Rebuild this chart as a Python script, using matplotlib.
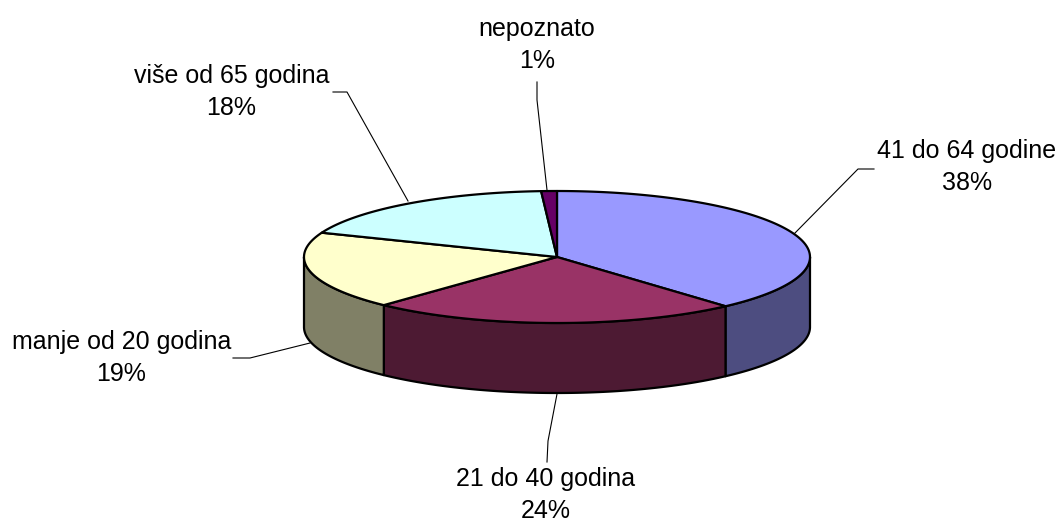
"""
3D pie (Excel style) drawn by hand from the shares, matplotlib has no such pie
"""

import numpy as np
import matplotlib
matplotlib.use('Agg')
import matplotlib.pyplot as plt
from matplotlib.patches import Polygon

# ============ data ============
categories = ['41 do 64 godine', '21 do 40 godina', 'manje od 20 godina', 'više od 65 godina', 'nepoznato']
shares = [38.4, 23.6, 19, 18, 1]
top_colors = ['#9999FF', '#993366', '#FFFFCC', '#CCFFFF', '#660066']
side_colors = ['#4D4D80', '#4D1A33', '#808066', '#668080', '#330033']

# ============ layout in pixels ============
WIDTH, HEIGHT = 1061, 524
cx, cy = 557, 257
rx, ry = 253, 66
depth = 70

# label centre, leader line points
label_pos = [(967, 167), (546, 495), (121.5, 358), (231.5, 92), (537, 45)]
leaders = [
    [(794, 234), (858, 169), (874, 169)],
    [(557, 394), (548, 441), (547, 462)],
    [(310, 343), (250, 358), (233, 358)],
    [(408, 201), (347, 92), (333, 92)],
    [(547, 190), (537, 100), (537, 82)],
]

plt.rcParams['font.family'] = ['Liberation Sans', 'DejaVu Sans']


def rim(a0, a1, n=120):
    """points on the top ellipse, angle clockwise from 12 o'clock"""
    t = np.linspace(a0, a1, n)
    return np.column_stack((cx + rx * np.sin(t), cy - ry * np.cos(t)))


fig = plt.figure(figsize=(WIDTH / 100, HEIGHT / 100), dpi=100)
ax = fig.add_axes([0, 0, 1, 1])
ax.set_xlim(0, WIDTH)
ax.set_ylim(HEIGHT, 0)
ax.axis('off')

for pts in leaders:
    xs, ys = zip(*pts)
    ax.plot(xs, ys, color='black', linewidth=0.8, zorder=1)

edges = np.cumsum([0] + shares) / sum(shares) * 2 * np.pi

# front walls, only the part of the rim in the lower half is visible
for i in range(len(shares)):
    a0 = max(edges[i], np.pi / 2)
    a1 = min(edges[i + 1], 3 * np.pi / 2)
    if a1 <= a0:
        continue
    upper = rim(a0, a1)
    lower = upper[::-1] + [0, depth]
    ax.add_patch(Polygon(np.vstack((upper, lower)), closed=True, facecolor=side_colors[i],
                         edgecolor='black', linewidth=1.6, joinstyle='round', zorder=2))

# top faces
for i in range(len(shares)):
    pts = np.vstack(([[cx, cy]], rim(edges[i], edges[i + 1])))
    ax.add_patch(Polygon(pts, closed=True, facecolor=top_colors[i],
                         edgecolor='black', linewidth=1.6, joinstyle='round', zorder=3))

for name, val, (x, y) in zip(categories, shares, label_pos):
    ax.text(x, y, f'{name}\n{val:.0f}%', ha='center', va='center', fontsize=18,
            color='black', linespacing=1.38, zorder=4)

fig.savefig('out.png', dpi=100, facecolor='white')
